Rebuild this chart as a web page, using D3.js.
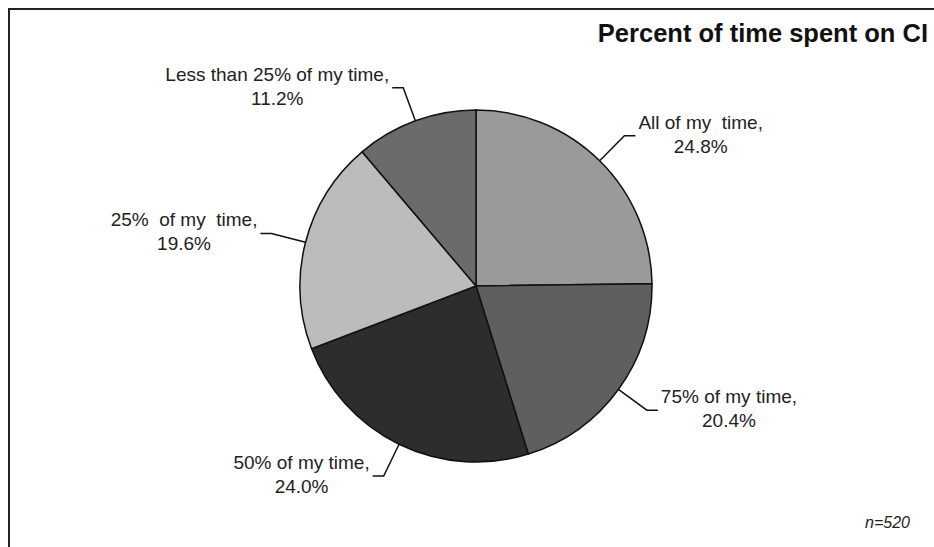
<!DOCTYPE html>
<html lang="en">
  <head>
    <meta charset="UTF-8" />
    <title>Percent of time spent on CI</title>
    <style>
      body { margin: 0; background: #fff; }
      text { font-family: "Liberation Sans", Arial, sans-serif; fill: #222; white-space: pre; }
    </style>
  </head>
  <body>
    <svg id="chart" width="934" height="547"></svg>
    <script src="https://cdn.jsdelivr.net/npm/d3@7"></script>
    <script>
      // slices, clockwise from 12 o'clock
      var labels = ['All of my  time,', '75% of my time,', '50% of my time,', '25%  of my  time,', 'Less than 25% of my time,'];
      var values = [24.8, 20.4, 24.0, 19.6, 11.2];
      var colors = ['#9a9a9a', '#5f5f5f', '#2d2d2d', '#bcbcbc', '#6b6b6b'];

      var width = 934;
      var height = 547;
      var cx = 476, cy = 286, radius = 176;

      var svg = d3.select('#chart');

      // frame (only top and left edges show in the picture)
      svg.append('path')
        .attr('d', 'M9,' + height + 'V9H' + width)
        .attr('fill', 'none')
        .attr('stroke', '#222')
        .attr('stroke-width', 2);

      svg.append('text')
        .attr('x', 928)
        .attr('y', 42)
        .attr('text-anchor', 'end')
        .style('font-size', '25.5px')
        .style('font-weight', 'bold')
        .style('fill', '#111')
        .text('Percent of time spent on CI');

      svg.append('text')
        .attr('x', 910)
        .attr('y', 528)
        .attr('text-anchor', 'end')
        .style('font-size', '16px')
        .style('font-style', 'italic')
        .text('n=520');

      var data = labels.map((d, i) => ({ label: d, value: values[i], color: colors[i] }));

      var pie = d3.pie().sort(null).value(d => d.value);
      var arcs = pie(data);
      var arc = d3.arc().innerRadius(0).outerRadius(radius);

      var g = svg.append('g').attr('transform', `translate(${cx},${cy})`);

      g.selectAll('path.slice')
        .data(arcs)
        .join('path')
        .attr('class', 'slice')
        .attr('d', arc)
        .attr('fill', d => d.data.color)
        .attr('stroke', '#111')
        .attr('stroke-width', 1.5);

      // leader lines + labels
      function pt(a, r) {
        return [Math.sin(a) * r, -Math.cos(a) * r];
      }

      arcs.forEach(d => {
        var mid = (d.startAngle + d.endAngle) / 2;
        var p0 = pt(mid, radius);
        var p1 = pt(mid, radius * 1.2);
        var side = p1[0] > 0 ? 1 : -1;
        var p2 = [p1[0] + side * 11, p1[1]];

        g.append('path')
          .attr('d', d3.line()([p0, p1, p2]))
          .attr('fill', 'none')
          .attr('stroke', '#111')
          .attr('stroke-width', 1.5);

        var t = g.append('text')
          .attr('text-anchor', 'middle')
          .style('font-size', '19px');
        var l1 = t.append('tspan').attr('y', p1[1] - 7).text(d.data.label);
        var w = l1.node().getComputedTextLength();
        var x = p2[0] + side * (w / 2 + 3);
        l1.attr('x', x);
        t.append('tspan')
          .attr('x', x)
          .attr('y', p1[1] - 7 + 24)
          .text(d3.format('.1f')(d.data.value) + '%');
      });
    </script>
  </body>
</html>
